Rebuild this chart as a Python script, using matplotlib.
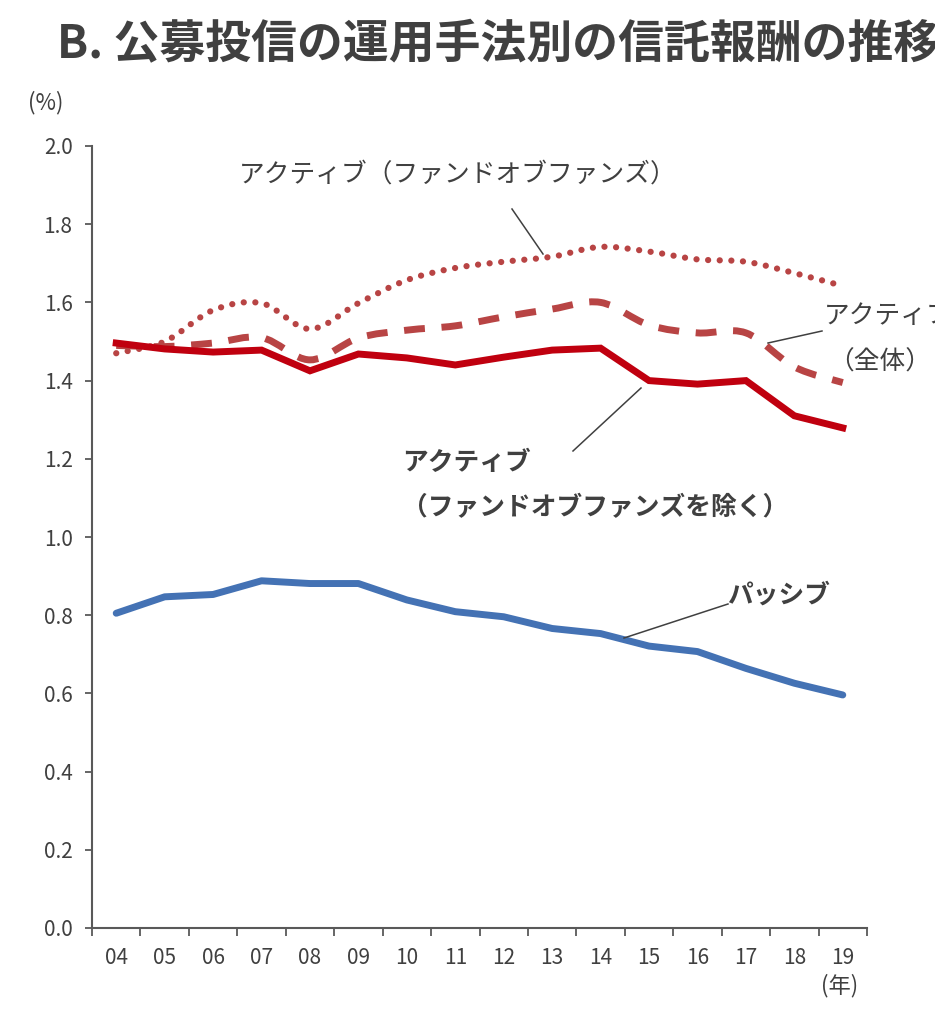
import numpy as np
import matplotlib.pyplot as plt
from matplotlib.path import Path
from matplotlib.patches import PathPatch
from matplotlib.lines import Line2D

plt.rcParams['font.family'] = ['Noto Sans CJK JP', 'DejaVu Sans']

# data (%)
years = ['04', '05', '06', '07', '08', '09', '10', '11', '12', '13', '14', '15', '16', '17', '18', '19']
active_fof = [1.47, 1.50, 1.58, 1.598, 1.532, 1.598, 1.657, 1.688, 1.704, 1.717, 1.742, 1.73, 1.71, 1.704, 1.675, 1.642]
active_all = [1.49, 1.487, 1.496, 1.51, 1.453, 1.509, 1.529, 1.54, 1.563, 1.583, 1.60, 1.542, 1.522, 1.522, 1.435, 1.395]
active_ex_fof = [1.496, 1.481, 1.473, 1.478, 1.425, 1.468, 1.458, 1.44, 1.46, 1.478, 1.483, 1.40, 1.391, 1.40, 1.31, 1.279]
passive = [0.805, 0.847, 0.853, 0.888, 0.881, 0.881, 0.839, 0.809, 0.796, 0.766, 0.753, 0.721, 0.707, 0.664, 0.626, 0.596]

W, H = 935, 1024
fig = plt.figure(figsize=(W / 100, H / 100), dpi=100)
ax = fig.add_axes([92 / W, 1 - 928 / H, (867 - 92) / W, (928 - 146) / H])

x = np.arange(len(years))


def smooth_path(xs, ys):
    # excel-like smoothed line (bezier through the points)
    pts = np.column_stack([xs, ys])
    n = len(pts)
    verts = [pts[0]]
    codes = [Path.MOVETO]
    for i in range(n - 1):
        p0 = pts[max(i - 1, 0)]
        p1 = pts[i]
        p2 = pts[i + 1]
        p3 = pts[min(i + 2, n - 1)]
        verts += [p1 + (p2 - p0) / 6, p2 - (p3 - p1) / 6, p2]
        codes += [Path.CURVE4] * 3
    return Path(verts, codes)


ax.add_patch(PathPatch(smooth_path(x, active_fof), fill=False, edgecolor='#B84444',
                       lw=4.5, linestyle=(0, (0.01, 1.85)), capstyle='round'))
ax.add_patch(PathPatch(smooth_path(x, active_all), fill=False, edgecolor='#B84444',
                       lw=5, linestyle=(0, (3.0, 2.4)), capstyle='butt'))
ax.plot(x, active_ex_fof, color='#C0000F', lw=5, solid_joinstyle='miter')
ax.plot(x, passive, color='#4472B4', lw=5, solid_capstyle='round')

ax.set_xlim(-0.5, len(years) - 0.5)
ax.set_ylim(0, 2.0)
for s in ['top', 'right']:
    ax.spines[s].set_visible(False)
for s in ['left', 'bottom']:
    ax.spines[s].set_color('#595959')
    ax.spines[s].set_linewidth(1.5)

ax.set_yticks(np.arange(0, 2.01, 0.2))
ax.set_yticklabels(['%.1f' % v for v in np.arange(0, 2.01, 0.2)])
ax.tick_params(axis='y', length=5, width=1.3, color='#595959', pad=9,
               labelsize=15, labelcolor='#404040')

ax.set_xticks(np.arange(-0.5, len(years), 1))
ax.set_xticklabels([])
ax.set_xticks(x, minor=True)
ax.set_xticklabels(years, minor=True)
ax.tick_params(axis='x', which='major', length=6, width=1.3, color='#595959')
ax.tick_params(axis='x', which='minor', length=0, pad=14, labelsize=15, labelcolor='#404040')


def ftext(px, py, s, **kw):
    fig.text(px / W, 1 - py / H, s, va='center', color='#404040', **kw)


def leader(x0, y0, x1, y1):
    fig.add_artist(Line2D([x0 / W, x1 / W], [1 - y0 / H, 1 - y1 / H],
                          transform=fig.transFigure, color='#404040', lw=1.1))


# title runs off the right edge, as in the source
ftext(57, 45, 'B. 公募投信の運用手法別の信託報酬の推移', fontsize=33, fontweight='bold')
ftext(46, 103, '(%)', fontsize=16, ha='center')
ftext(840, 986, '(年)', fontsize=16, ha='center')

ftext(458, 175, 'アクティブ（ファンドオブファンズ）', fontsize=18.5, ha='center')
leader(512, 209, 543, 254)

ftext(824, 316, 'アクティブ', fontsize=18.5)
ftext(828, 363, '（全体）', fontsize=18.5)
leader(768, 343, 822, 331)

ftext(402, 463, 'アクティブ', fontsize=18.5, fontweight='bold')
ftext(402, 508, '（ファンドオブファンズを除く）', fontsize=18.5, fontweight='bold')
leader(573, 451, 641, 388)

ftext(727, 595, 'パッシブ', fontsize=18.5, fontweight='bold')
leader(624, 638, 728, 604)

fig.savefig('out.png', dpi=100, facecolor='white')
